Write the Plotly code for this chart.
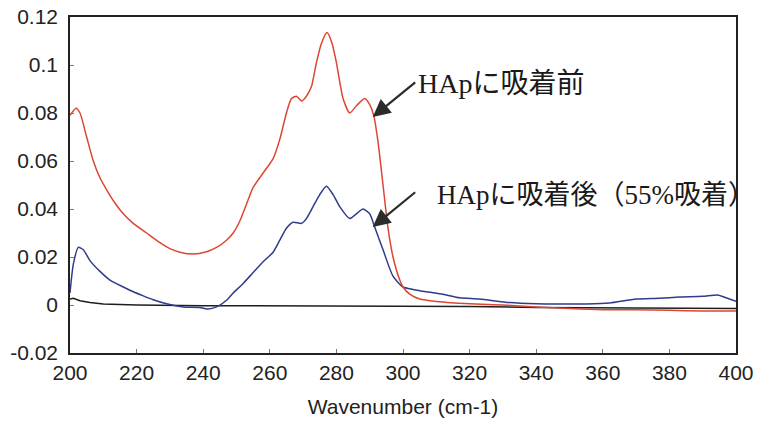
import plotly.graph_objects as go

# ---- data ----
red_x = [200, 201.8, 203, 205, 207, 209, 211, 213.5, 216, 219, 223, 227, 230, 233, 237, 241, 244, 247, 249, 251,
         253, 255, 258, 261, 263, 265, 266.5, 268, 269.5, 271, 272.5, 274, 275.5, 277.2, 278.7, 280, 282, 284, 286,
         288.5, 290, 291.2, 292.5, 294, 295.5, 297, 299, 300, 302, 305, 310, 320, 330, 340, 350, 360, 370, 380, 390, 400]
red_y = [0.079, 0.082, 0.080, 0.070, 0.060, 0.053, 0.048, 0.0425, 0.038, 0.034, 0.030, 0.026, 0.0235, 0.022, 0.0212,
         0.0222, 0.024, 0.027, 0.030, 0.035, 0.042, 0.049, 0.055, 0.061, 0.069, 0.080, 0.086, 0.087, 0.085, 0.087,
         0.091, 0.101, 0.109, 0.1135, 0.109, 0.101, 0.086, 0.080, 0.083, 0.086, 0.0835, 0.079, 0.068, 0.050, 0.032,
         0.020, 0.0105, 0.0075, 0.0045, 0.0025, 0.0015, 0.0005, 0.0, -0.0008, -0.0015, -0.002, -0.002, -0.0022,
         -0.0025, -0.0025]

blue_x = [200, 201, 202.5, 204, 206, 209, 212, 216, 219, 222, 225, 229, 234, 239, 241.5, 244, 247, 249, 252, 255,
          258, 261, 263, 265, 267, 269.5, 271, 273, 275, 277, 279, 281, 284, 286, 288, 290, 291.5, 294, 297, 300,
          303, 307, 312, 317, 323, 332, 340, 347, 355, 362, 370, 377, 383, 390, 394.5, 397, 400]
blue_y = [0.005, 0.017, 0.024, 0.023, 0.0185, 0.014, 0.0104, 0.0075, 0.0055, 0.0038, 0.0022, 0.0005, -0.0008,
          -0.001, -0.0017, -0.0008, 0.002, 0.005, 0.009, 0.0135, 0.018, 0.022, 0.027, 0.032, 0.0345, 0.034, 0.036,
          0.041, 0.046, 0.0495, 0.046, 0.041, 0.036, 0.038, 0.040, 0.038, 0.0325, 0.023, 0.012, 0.0075, 0.0065,
          0.0055, 0.0045, 0.003, 0.0025, 0.001, 0.0005, 0.0004, 0.0004, 0.0008, 0.0025, 0.0028, 0.0033, 0.0036,
          0.0042, 0.003, 0.0015]

black_x = [200, 201, 203, 206, 210, 220, 240, 260, 280, 300, 320, 340, 360, 380, 400]
black_y = [0.0025, 0.0028, 0.0018, 0.001, 0.0004, 0.0, -0.0003, -0.0003, -0.0003, -0.0004, -0.0006, -0.001,
           -0.0012, -0.0013, -0.0015]

x_ticks = [200, 220, 240, 260, 280, 300, 320, 340, 360, 380, 400]
y_ticks = [-0.02, 0, 0.02, 0.04, 0.06, 0.08, 0.1, 0.12]
y_ticktext = ["-0.02", "0", "0.02", "0.04", "0.06", "0.08", "0.1", "0.12"]

label_before = "HApに吸着前"
label_after = "HApに吸着後（55%吸着）"
x_title = "Wavenumber (cm-1)"

fig = go.Figure()
fig.add_trace(go.Scatter(x=black_x, y=black_y, mode="lines", line=dict(color="#1e1e1e", width=1.5), showlegend=False))
fig.add_trace(go.Scatter(x=blue_x, y=blue_y, mode="lines",
                         line=dict(color="#2f3b8c", width=1.5, shape="spline", smoothing=0.6), showlegend=False))
fig.add_trace(go.Scatter(x=red_x, y=red_y, mode="lines",
                         line=dict(color="#dc4632", width=1.5, shape="spline", smoothing=0.6), showlegend=False))

serif = "Liberation Serif, Noto Sans CJK JP, serif"
for tip_x, tip_y in [(290.9, 0.0783), (290.9, 0.0325)]:
    fig.add_annotation(x=tip_x, y=tip_y, ax=44, ay=-36, xref="x", yref="y", text="",
                       showarrow=True, arrowhead=2, arrowsize=1.6, arrowwidth=2.2, arrowcolor="#2b2b2b")
fig.add_annotation(x=304, y=0.0922, xref="x", yref="y", text=label_before, showarrow=False,
                   xanchor="left", yanchor="middle", font=dict(family=serif, size=28, color="#1a1a1a"))
fig.add_annotation(x=309.5, y=0.0458, xref="x", yref="y", text=label_after, showarrow=False,
                   xanchor="left", yanchor="middle", font=dict(family=serif, size=27, color="#1a1a1a"))

axis_font = dict(family="Liberation Sans, Arial, sans-serif", size=21, color="#222222")
fig.update_layout(
    width=758, height=421,
    margin=dict(l=70, r=22, t=17, b=68, autoexpand=False),
    paper_bgcolor="white", plot_bgcolor="white",
    xaxis=dict(range=[200, 400], tickvals=x_ticks, showgrid=False, zeroline=False, automargin=False,
               showline=True, linecolor="#222222", linewidth=1.5, mirror=True,
               ticks="inside", ticklen=4, tickcolor="#777777", tickfont=axis_font,
               ticklabeloverflow="allow",
               title=dict(text=x_title, font=axis_font, standoff=16)),
    yaxis=dict(range=[-0.02, 0.12], tickvals=y_ticks, ticktext=y_ticktext, showgrid=False, zeroline=False,
               automargin=False, showline=True, linecolor="#222222", linewidth=1.5, mirror=True,
               ticks="inside", ticklen=4, tickcolor="#777777", tickfont=axis_font, ticklabelstandoff=6,
               ticklabeloverflow="allow"),
)
# remove the page's default 8px body margin so the figure sits at the window's top-left corner
fig.write_html("out.html", config={"displayModeBar": False},
               post_script="document.body.style.margin='0';document.body.style.overflow='hidden';")
